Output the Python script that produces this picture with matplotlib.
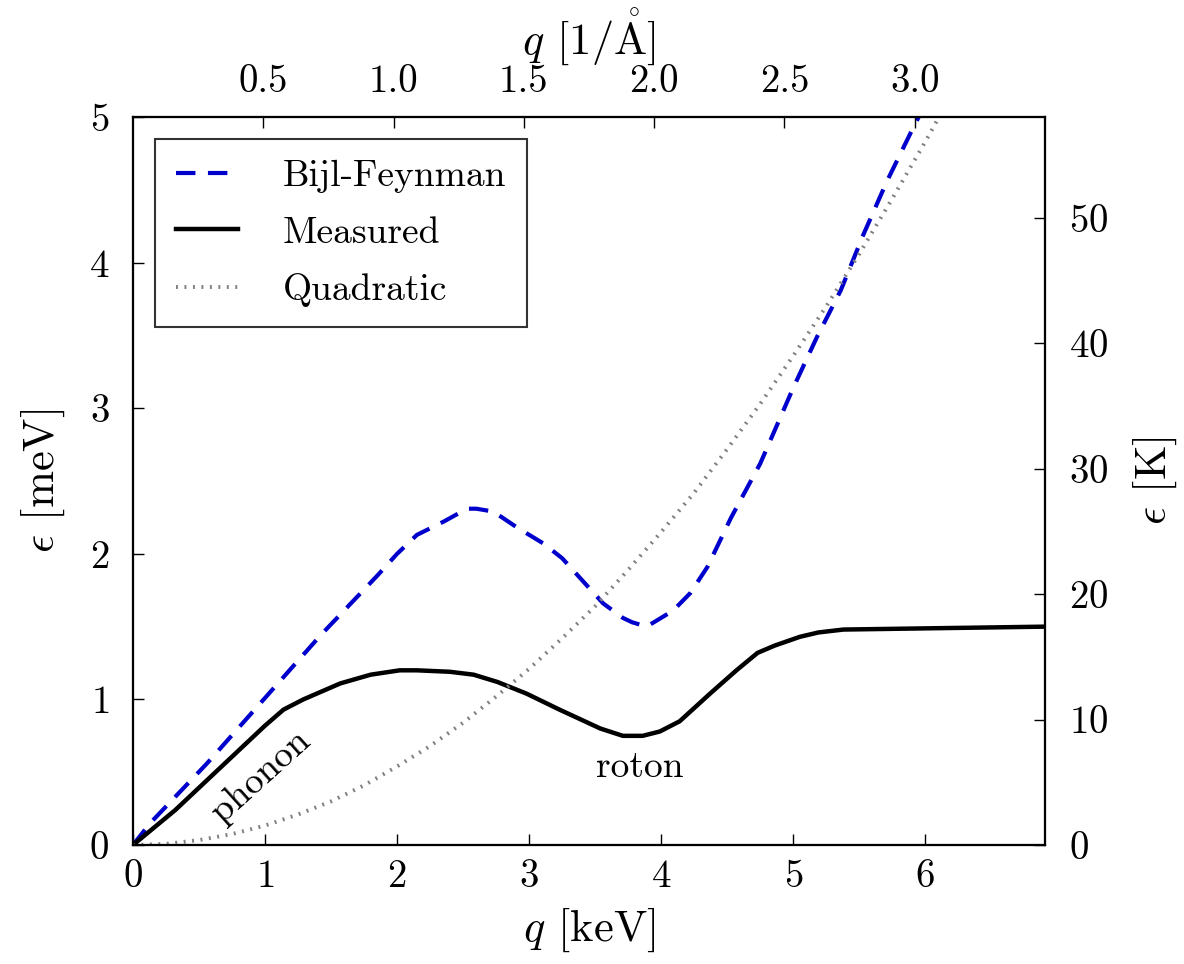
import numpy as np
import matplotlib
matplotlib.use("Agg")
import matplotlib.pyplot as plt

plt.rcParams["font.family"] = "serif"
plt.rcParams["font.serif"] = ["cmr10"]
plt.rcParams["mathtext.fontset"] = "cm"
plt.rcParams["axes.formatter.use_mathtext"] = True
plt.rcParams["lines.scale_dashes"] = False

KEV_PER_INV_ANGSTROM = 1.97327   # hbar*c in keV*Angstrom
K_PER_MEV = 11.6045

# measured dispersion of superfluid helium, q [keV], eps [meV]
q_meas = [0, 0.32, 1.0, 1.14, 1.29, 1.57, 1.80, 2.02, 2.15, 2.40, 2.58, 2.76,
          2.98, 3.23, 3.54, 3.71, 3.86, 3.99, 4.14, 4.37, 4.57, 4.73, 4.86,
          5.05, 5.19, 5.38, 6.91]
eps_meas = [0, 0.24, 0.82, 0.93, 1.00, 1.11, 1.17, 1.20, 1.20, 1.19, 1.17,
            1.12, 1.04, 0.93, 0.80, 0.75, 0.75, 0.78, 0.85, 1.04, 1.20, 1.32,
            1.37, 1.43, 1.46, 1.48, 1.50]

# Bijl-Feynman estimate
q_bf = [0, 0.13, 0.56, 0.99, 1.42, 1.85, 2.0, 2.15, 2.35, 2.53, 2.60, 2.73,
        2.91, 3.11, 3.25, 3.41, 3.56, 3.71, 3.78, 3.89, 4.09, 4.22, 4.35,
        4.53, 4.75, 5.00, 5.18, 5.36, 5.53, 5.71, 5.91, 5.95]
eps_bf = [0, 0.15, 0.56, 1.00, 1.44, 1.85, 2.00, 2.13, 2.22, 2.31, 2.31, 2.29,
          2.18, 2.07, 1.97, 1.81, 1.66, 1.56, 1.53, 1.50, 1.61, 1.73, 1.91,
          2.25, 2.62, 3.14, 3.49, 3.81, 4.19, 4.56, 4.93, 5.00]

# free-particle (quadratic) dispersion
q_quad = [0, 0.25, 0.5, 0.75, 1.0, 1.25, 1.5, 1.75, 2.0, 2.25, 2.5, 2.75,
          3.0, 3.25, 3.5, 3.75, 4.0, 4.25, 4.5, 4.75, 5.0, 5.25, 5.5, 5.75,
          6.0, 6.25]
eps_quad = [0, 0.008, 0.034, 0.075, 0.134, 0.21, 0.30, 0.41, 0.54, 0.68, 0.84,
            1.02, 1.21, 1.42, 1.64, 1.89, 2.15, 2.42, 2.72, 3.03, 3.36, 3.70,
            4.06, 4.44, 4.83, 5.24]

top_ticks = [0.5, 1.0, 1.5, 2.0, 2.5, 3.0]
right_ticks = [0, 10, 20, 30, 40, 50]

fig = plt.figure(figsize=(11.84, 9.64), dpi=100)
ax = fig.add_axes([0.1123, 0.1234, 0.7703, 0.7552])

ax.plot(q_bf, eps_bf, color="mediumblue", lw=3.0, dashes=(14, 9),
        label="Bijl-Feynman")
ax.plot(q_meas, eps_meas, color="black", lw=3.2, label="Measured")
ax.plot(q_quad, eps_quad, color="#808080", lw=2.8, dashes=(1.4, 4.7),
        label="Quadratic")

xmax = 3.5 * KEV_PER_INV_ANGSTROM
ax.set_xlim(0, xmax)
ax.set_ylim(0, 5)
ax.set_xticks(range(0, 7))
ax.set_yticks(range(0, 6))
ax.set_xlabel(r"$q$ [keV]", fontsize=32, labelpad=8)
ax.set_ylabel(r"$\epsilon$ [meV]", fontsize=32, labelpad=16)

ax.text(0.97, 0.47, "phonon", rotation=42, fontsize=27,
        ha="center", va="center")
ax.text(3.84, 0.53, "roton", fontsize=27, ha="center", va="center")

leg = ax.legend(loc="upper left", bbox_to_anchor=(0.012, 0.985), fontsize=27,
                frameon=True, fancybox=False, handlelength=1.65,
                handletextpad=1.2, borderpad=0.55, labelspacing=0.62,
                borderaxespad=0.3)
leg.get_frame().set_edgecolor("black")
leg.get_frame().set_linewidth(1.5)

# top axis in inverse Angstrom
ax_top = ax.twiny()
ax_top.set_xlim(0, 3.5)
ax_top.set_xticks(top_ticks)
ax_top.set_xticklabels([f"{t:.1f}" for t in top_ticks])
ax_top.set_xlabel(r"$q$ [1/$\mathring{\mathrm{A}}$]", fontsize=32, labelpad=8)

# right axis in Kelvin
ax_right = ax.twinx()
ax_right.set_ylim(0, 5 * K_PER_MEV)
ax_right.set_yticks(right_ticks)
ax_right.set_ylabel(r"$\epsilon$ [K]", fontsize=32, labelpad=16)

for a in (ax, ax_top, ax_right):
    for s in a.spines.values():
        s.set_linewidth(1.5)
    a.tick_params(direction="in", length=8, width=1.0, labelsize=28)

ax.tick_params(axis="x", pad=10)
ax.tick_params(axis="y", pad=17)
ax_top.tick_params(pad=12)
ax_right.tick_params(pad=17)
ax.tick_params(top=False, right=False)
ax_top.tick_params(bottom=False)
ax_right.tick_params(left=False)

fig.savefig("out.png", dpi=100)
